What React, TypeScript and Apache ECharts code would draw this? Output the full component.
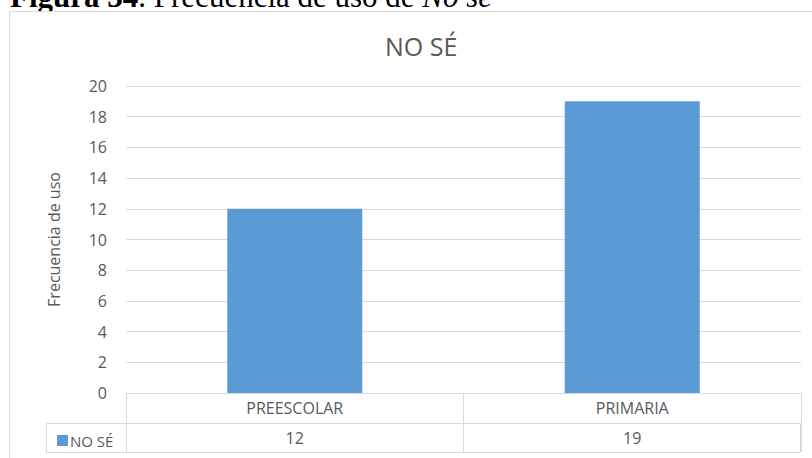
import React, { useEffect, useRef } from "react";
import * as echarts from "echarts";

const categories = ["PREESCOLAR", "PRIMARIA"];
const seriesName = "NO SÉ";
const values = [12, 19];
const yTicks = { min: 0, max: 20, interval: 2 };
const chartTitle = "NO SÉ";
const yAxisTitle = "Frecuencia de uso";

const FONT = "'Open Sans', 'Noto Sans', sans-serif";
const SERIF = "'Liberation Serif', 'Times New Roman', serif";
const GRAY = "#595959";
const LINE = "#d9d9d9";
const BLUE = "#5b9bd5";

export default function App() {
  const ref = useRef<HTMLDivElement>(null);
  useEffect(() => {
    document.body.style.margin = "0";
    const chart = echarts.init(ref.current!, null, { renderer: "svg" });
    chart.setOption({
      animation: false,
      textStyle: { fontFamily: FONT },
      title: {
        text: chartTitle,
        left: 380,
        top: 28,
        textStyle: { fontFamily: FONT, fontSize: 25, fontWeight: "normal", color: GRAY },
      },
      legend: {
        left: 52,
        top: 428,
        itemWidth: 11,
        itemHeight: 11,
        itemGap: 0,
        icon: "rect",
        textStyle: { fontFamily: FONT, fontSize: 15, color: GRAY, padding: [0, 0, 0, -3] },
        data: [seriesName],
      },
      grid: { left: 126, right: 11, top: 86, bottom: 65 },
      xAxis: {
        type: "category",
        data: categories,
        axisLine: { lineStyle: { color: LINE } },
        axisTick: { show: true, length: 59, lineStyle: { color: LINE } },
        axisLabel: {
          margin: 0,
          interval: 0,
          formatter: (v: string, i: number) => `{c|${v}}\n{v|${values[i]}}`,
          rich: {
            c: { fontFamily: FONT, fontSize: 16, color: GRAY, lineHeight: 30, height: 30 },
            v: { fontFamily: FONT, fontSize: 16, color: GRAY, lineHeight: 29, height: 29 },
          },
        },
      },
      yAxis: {
        type: "value",
        min: yTicks.min,
        max: yTicks.max,
        interval: yTicks.interval,
        name: yAxisTitle,
        nameLocation: "middle",
        nameRotate: 90,
        nameGap: 64,
        nameTextStyle: { fontFamily: FONT, fontSize: 16, color: GRAY },
        axisLine: { show: false },
        axisTick: { show: false },
        axisLabel: { margin: 19, fontFamily: FONT, fontSize: 16, color: GRAY },
        splitLine: { lineStyle: { color: LINE } },
      },
      series: [
        {
          name: seriesName,
          type: "bar",
          data: values,
          barWidth: "40%",
          itemStyle: { color: BLUE },
        },
      ],
      graphic: [
        {
          type: "text",
          z: -20,
          style: {
            x: 10,
            y: -4,
            verticalAlign: "middle",
            text: "{b|Figura 34}. Frecuencia de uso de {i|No sé}",
            fontFamily: SERIF,
            fontSize: 31,
            fill: "#000",
            rich: {
              b: { fontFamily: SERIF, fontSize: 31, fontWeight: "bold", fill: "#000" },
              i: { fontFamily: SERIF, fontSize: 31, fontStyle: "italic", fill: "#000" },
            },
          },
        },
        {
          type: "rect",
          z: -10,
          shape: { x: 9.5, y: 11.5, width: 820, height: 460 },
          style: { fill: "#fff", stroke: LINE, lineWidth: 1 },
        },
        {
          type: "rect",
          z: 1,
          shape: { x: 46.5, y: 423.5, width: 754, height: 29 },
          style: { fill: "none", stroke: LINE, lineWidth: 1 },
        },
      ],
    });
    return () => chart.dispose();
  }, []);
  return <div ref={ref} style={{ position: "absolute", left: 0, top: 0, width: 812, height: 458 }} />;
}
